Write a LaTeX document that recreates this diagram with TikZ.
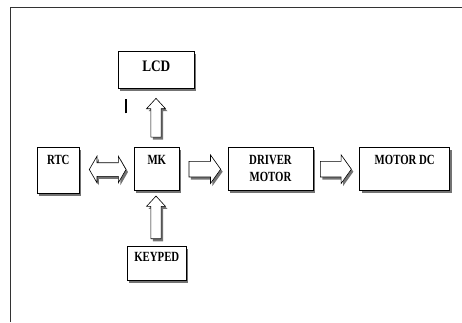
\documentclass[tikz,border=0pt]{standalone}
\usepackage{fontspec}
\setmainfont{Liberation Serif}[FakeStretch=0.77]
\newfontfamily\lcdfont{Liberation Serif}[FakeStretch=0.83]
\usetikzlibrary{positioning,shapes.arrows,shadows}

\begin{document}
\begin{tikzpicture}[
  x=1pt, y=1pt,
  shade/.style={drop shadow={shadow xshift=2pt, shadow yshift=-2.5pt,
              fill=black!55, opacity=1}},
  box/.style={draw, line width=0.7pt, fill=white, inner sep=0pt, shade},
  lbl/.style={anchor=north, inner sep=0pt, align=center,
              font=\fontsize{14}{16.7}\selectfont\bfseries},
  sarrow/.style={single arrow, draw, line width=0.6pt, fill=white, shade,
              inner sep=7.5pt, minimum width=0pt, single arrow head extend=6.5pt,
              single arrow tip angle=109, single arrow head indent=0pt},
  uarrow/.style={sarrow, shape border rotate=90, inner sep=4.85pt,
              single arrow head extend=4.35pt, single arrow tip angle=85},
  darrow/.style={double arrow, draw, line width=0.6pt, fill=white, shade,
              inner sep=6.5pt, minimum width=0pt, double arrow head extend=6.5pt,
              double arrow tip angle=120, double arrow head indent=0pt,
              minimum height=36.7pt}
]
\useasboundingbox (0,0) rectangle (462,322);
\draw[line width=0.8pt, black!80] (10.5,0) |- (462,315);
\node[box, minimum width=45pt, minimum height=43pt,
      label={[lbl, yshift=-8pt]north:MK}] (mk) at (156.8,152.8) {};
\node[box, minimum width=42pt, minimum height=45.6pt, left=54.3pt of mk, yshift=-1.3pt,
      label={[lbl, yshift=-8pt]north:RTC}] (rtc) {};
\node[box, minimum width=85pt, minimum height=43pt, right=48pt of mk,
      label={[lbl, yshift=-8pt]north:DRIVER\\MOTOR}] (drv) {};
\node[box, minimum width=90pt, minimum height=43pt, right=46pt of drv,
      label={[lbl, yshift=-8pt]north:MOTOR DC}] (motor) {};
\node[box, minimum width=76pt, minimum height=37pt, above=58.4pt of mk, xshift=-0.5pt,
      label={[lbl, yshift=-9.4pt, font=\fontsize{16}{18}\selectfont\lcdfont\bfseries]north:LCD}] (lcd) {};
\node[box, minimum width=59pt, minimum height=34.3pt, below=55pt of mk,
      label={[lbl, yshift=-6pt]north:KEYPED}] (key) {};
\node[darrow, right=9.3pt of rtc, yshift=1pt] (rtcmk) {};
\node[sarrow, minimum height=31.7pt, right=9pt of mk] (mkdrv) {};
\node[sarrow, minimum height=31pt, right=6.7pt of drv] (drvmotor) {};
\node[uarrow, minimum height=38.7pt, anchor=tail] (mklcd) at ([yshift=10pt, xshift=-0.8pt]mk.north) {};
\node[uarrow, minimum height=42.7pt, anchor=tail] (keymk) at ([yshift=7pt, xshift=-0.8pt]key.north) {};
\draw[line width=1.1pt] (126,208.7) -- (126,222.7);
\end{tikzpicture}
\end{document}
